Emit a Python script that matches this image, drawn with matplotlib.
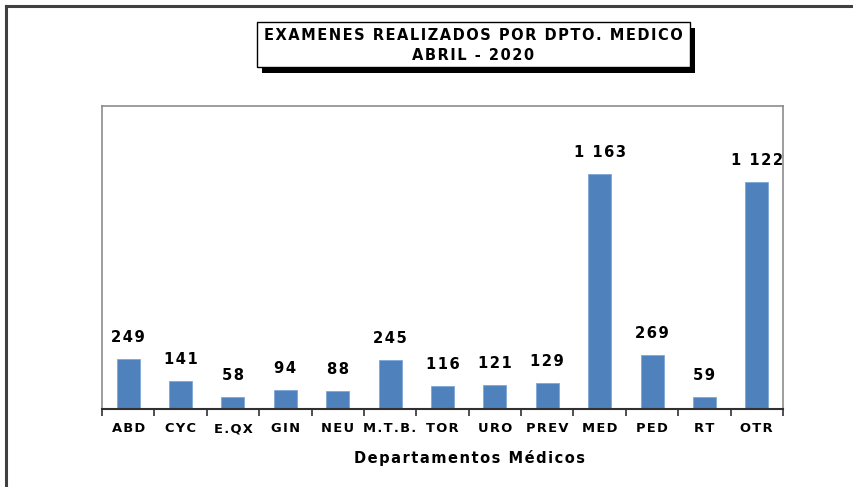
import numpy as np
import matplotlib.pyplot as plt
from matplotlib.patches import Rectangle
from matplotlib.lines import Line2D

departamentos = ['ABD', 'CYC', 'E.QX', 'GIN', 'NEU', 'M.T.B.', 'TOR', 'URO',
                 'PREV', 'MED', 'PED', 'RT', 'OTR']
examenes = [249, 141, 58, 94, 88, 245, 116, 121, 129, 1163, 269, 59, 1122]

plt.rcParams['font.family'] = ['DejaVu Sans']
plt.rcParams['font.weight'] = 'bold'

W, H = 854, 487
fig = plt.figure(figsize=(W / 100, H / 100), dpi=100)


def spaced(s):
    # a hair space between letters widens the text like the original
    return '\u200a'.join(s)


# outer frame (top and left edges visible)
fig.add_artist(Line2D([6 / W, 1], [1 - 6 / H, 1 - 6 / H], transform=fig.transFigure,
                      color='#404040', lw=2.2))
fig.add_artist(Line2D([6 / W, 6 / W], [0, 1 - 6 / H], transform=fig.transFigure,
                      color='#404040', lw=2.2))

ax_l, ax_r, ax_t, ax_b = 102, 783, 106, 409
ax = fig.add_axes([ax_l / W, 1 - ax_b / H, (ax_r - ax_l) / W, (ax_b - ax_t) / H])
x = np.arange(len(departamentos))
ax.bar(x, examenes, width=0.44, color='#4f81bd', edgecolor='#7ea6d8', linewidth=0.6)
ax.set_xlim(-0.5, len(departamentos) - 0.5)
ax.set_ylim(0, 1500)
ax.set_yticks([])

for s in ['left', 'top', 'right']:
    ax.spines[s].set_color('#8c8c8c')
    ax.spines[s].set_linewidth(1.2)
ax.spines['bottom'].set_color('#303030')
ax.spines['bottom'].set_linewidth(1.5)

ax.set_xticks(np.arange(len(departamentos) + 1) - 0.5)
ax.set_xticklabels([])
ax.tick_params(axis='x', length=5, width=1.2, color='#303030', direction='out')

for i, (d, v) in enumerate(zip(departamentos, examenes)):
    ax.annotate(spaced(f'{v:,}'.replace(',', ' ')), (i, v), xytext=(0, 17),
                textcoords='offset pixels', ha='center', va='baseline', fontsize=10.6)
    ax.annotate(spaced(d), (i, 0), xytext=(0, -13), textcoords='offset pixels',
                ha='center', va='top', fontsize=9.4)

fig.text(469 / W, 1 - 458 / H, spaced('Departamentos Médicos'), ha='center', va='center',
         fontsize=10.5)

# title box with shadow
fig.add_artist(Rectangle((262 / W, 1 - 73 / H), 433 / W, 45 / H, transform=fig.transFigure,
                         facecolor='black', edgecolor='none'))
fig.add_artist(Rectangle((257 / W, 1 - 67 / H), 433 / W, 45 / H, transform=fig.transFigure,
                         facecolor='white', edgecolor='black', lw=1.0))
fig.text(473 / W, 1 - 36 / H, spaced('EXAMENES REALIZADOS POR DPTO. MEDICO'),
         ha='center', va='center', fontsize=10.5)
fig.text(473 / W, 1 - 55 / H, spaced('ABRIL - 2020'), ha='center', va='center',
         fontsize=10.5)

fig.savefig('out.png', dpi=100)
